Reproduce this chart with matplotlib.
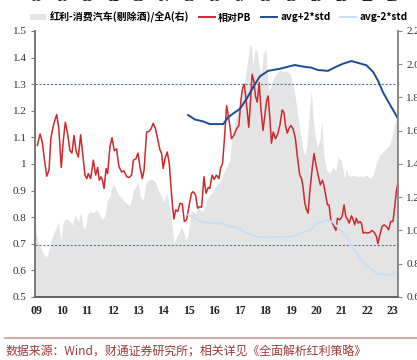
import matplotlib
matplotlib.use("Agg")
import matplotlib.pyplot as plt
import matplotlib.transforms as mtransforms
from matplotlib.patches import Patch
from matplotlib.lines import Line2D

plt.rcParams['font.family'] = ['Noto Sans CJK SC', 'DejaVu Sans']

# ---- data (decimal years) ----
red_t = [2009.05, 2009.16, 2009.25, 2009.33, 2009.42, 2009.51, 2009.58, 2009.68, 2009.81, 2009.89,
         2009.99, 2010.07, 2010.15, 2010.24, 2010.33, 2010.41, 2010.49, 2010.57, 2010.66, 2010.75,
         2010.83, 2010.92, 2010.99, 2011.05, 2011.14, 2011.25, 2011.34, 2011.42, 2011.48, 2011.55,
         2011.61, 2011.67, 2011.75, 2011.81, 2011.90, 2011.98, 2012.07, 2012.16, 2012.25, 2012.36,
         2012.45, 2012.56, 2012.65, 2012.75, 2012.82, 2012.92, 2013.00, 2013.08, 2013.17, 2013.24,
         2013.34, 2013.44, 2013.51, 2013.60, 2013.69, 2013.77, 2013.86, 2013.93, 2013.99, 2014.06,
         2014.15, 2014.23, 2014.29, 2014.36, 2014.41, 2014.48, 2014.56, 2014.65, 2014.74, 2014.82,
         2014.91, 2015.00, 2015.10, 2015.17, 2015.26, 2015.34, 2015.43, 2015.50, 2015.59, 2015.67,
         2015.76, 2015.82, 2015.91, 2015.99, 2016.08, 2016.18, 2016.24, 2016.32, 2016.39, 2016.48,
         2016.58, 2016.67, 2016.76, 2016.87, 2016.96, 2017.04, 2017.10, 2017.17, 2017.22, 2017.29,
         2017.35, 2017.42, 2017.48, 2017.55, 2017.61, 2017.68, 2017.76, 2017.82, 2017.91, 2017.98,
         2018.05, 2018.11, 2018.18, 2018.24, 2018.31, 2018.40, 2018.48, 2018.57, 2018.66, 2018.73,
         2018.79, 2018.86, 2018.92, 2019.00, 2019.09, 2019.18, 2019.26, 2019.35, 2019.42, 2019.48,
         2019.55, 2019.61, 2019.68, 2019.74, 2019.84, 2019.91, 2019.98, 2020.07, 2020.16, 2020.24,
         2020.29, 2020.37, 2020.44, 2020.50, 2020.57, 2020.63, 2020.70, 2020.77, 2020.83, 2020.92,
         2021.01, 2021.09, 2021.16, 2021.22, 2021.29, 2021.38, 2021.44, 2021.51, 2021.57, 2021.64,
         2021.71, 2021.77, 2021.84, 2021.93, 2022.01, 2022.10, 2022.19, 2022.27, 2022.36, 2022.42,
         2022.49, 2022.58, 2022.66, 2022.75, 2022.84, 2022.92, 2023.01, 2023.08, 2023.14, 2023.20]
red_v = [1.070, 1.113, 1.080, 1.014, 0.954, 0.977, 1.095, 1.145, 1.186, 1.138,
         0.987, 1.089, 1.157, 1.113, 1.050, 1.041, 1.107, 1.050, 1.026, 1.110,
         1.038, 0.958, 0.945, 0.964, 0.945, 1.014, 0.958, 0.987, 0.939, 0.952,
         0.937, 0.908, 0.983, 0.964, 1.064, 1.099, 1.050, 1.057, 0.991, 0.970,
         0.974, 0.952, 0.949, 0.958, 1.014, 1.020, 1.041, 0.989, 0.945, 0.977,
         1.120, 1.123, 1.132, 1.153, 1.132, 1.095, 1.054, 1.039, 0.983, 1.020,
         1.045, 1.001, 0.921, 0.840, 0.793, 0.828, 0.821, 0.852, 0.850, 0.784,
         0.790, 0.840, 0.890, 0.896, 0.883, 0.834, 0.840, 0.837, 0.952, 0.890,
         0.912, 0.908, 0.958, 0.942, 0.958, 0.945, 0.983, 1.001, 1.089, 1.219,
         1.163, 1.095, 1.107, 1.132, 1.145, 1.238, 1.281, 1.300, 1.263, 1.194,
         1.138, 1.238, 1.337, 1.312, 1.256, 1.232, 1.306, 1.213, 1.126, 1.182,
         1.238, 1.256, 1.169, 1.078, 1.120, 1.095, 1.111, 1.145, 1.203, 1.194,
         1.145, 1.116, 1.132, 1.145, 1.132, 1.095, 1.026, 0.958, 0.945, 0.914,
         0.852, 0.830, 0.815, 0.890, 0.983, 1.039, 1.001, 0.958, 0.921, 0.939,
         0.924, 0.883, 0.846, 0.846, 0.790, 0.778, 0.765, 0.750, 0.796, 0.790,
         0.802, 0.846, 0.802, 0.793, 0.778, 0.805, 0.793, 0.771, 0.796, 0.778,
         0.784, 0.778, 0.740, 0.743, 0.740, 0.743, 0.750, 0.743, 0.728, 0.700,
         0.731, 0.765, 0.771, 0.765, 0.753, 0.784, 0.784, 0.840, 0.896, 0.927]

hi_t = [2014.97, 2015.24, 2015.56, 2015.82, 2016.35, 2016.54, 2017.00, 2017.26, 2017.52, 2017.78,
        2018.11, 2018.57, 2019.16, 2019.48, 2019.81, 2020.07, 2020.46, 2020.79, 2021.05, 2021.38,
        2021.71, 2021.97, 2022.23, 2022.43, 2022.62, 2022.88, 2023.08, 2023.21]
hi_v = [1.184, 1.167, 1.160, 1.150, 1.150, 1.176, 1.207, 1.244, 1.288, 1.329,
        1.350, 1.358, 1.372, 1.366, 1.362, 1.353, 1.350, 1.366, 1.377, 1.387,
        1.378, 1.371, 1.346, 1.312, 1.269, 1.225, 1.192, 1.169]

lo_t = [2014.97, 2015.30, 2015.43, 2015.82, 2016.35, 2016.61, 2016.87, 2017.26, 2017.65, 2018.05,
        2018.57, 2018.96, 2019.22, 2019.48, 2019.75, 2020.01, 2020.20, 2020.46, 2020.66, 2020.92,
        2021.18, 2021.44, 2021.71, 2021.97, 2022.16, 2022.42, 2022.69, 2022.95, 2023.21]
lo_v = [0.809, 0.793, 0.784, 0.778, 0.775, 0.765, 0.763, 0.741, 0.726, 0.724,
        0.726, 0.726, 0.731, 0.744, 0.748, 0.778, 0.784, 0.790, 0.781, 0.754,
        0.729, 0.685, 0.648, 0.617, 0.604, 0.585, 0.585, 0.583, 0.598]

gray_t = [2008.96, 2009.09, 2009.22, 2009.39, 2009.48, 2009.61, 2009.75, 2009.88, 2009.97, 2010.07,
          2010.20, 2010.33, 2010.44, 2010.53, 2010.66, 2010.75, 2010.83, 2010.92, 2011.01, 2011.12,
          2011.25, 2011.38, 2011.51, 2011.61, 2011.71, 2011.80, 2011.90, 2012.01, 2012.10, 2012.23,
          2012.32, 2012.42, 2012.56, 2012.69, 2012.82, 2012.95, 2013.01, 2013.10, 2013.21, 2013.31,
          2013.41, 2013.54, 2013.67, 2013.80, 2013.93, 2014.02, 2014.12, 2014.23, 2014.32, 2014.41,
          2014.52, 2014.62, 2014.71, 2014.80, 2014.88, 2014.97, 2015.07, 2015.14, 2015.24, 2015.37,
          2015.50, 2015.59, 2015.69, 2015.82, 2015.95, 2016.08, 2016.22, 2016.35, 2016.48, 2016.61,
          2016.67, 2016.80, 2016.93, 2017.07, 2017.20, 2017.30, 2017.39, 2017.46, 2017.52, 2017.59,
          2017.68, 2017.76, 2017.85, 2017.92, 2018.02, 2018.07, 2018.15, 2018.24, 2018.33, 2018.44,
          2018.57, 2018.70, 2018.83, 2018.96, 2019.09, 2019.20, 2019.29, 2019.38, 2019.48, 2019.55,
          2019.62, 2019.70, 2019.80, 2019.88, 2019.96, 2020.05, 2020.15, 2020.22, 2020.27, 2020.33,
          2020.40, 2020.53, 2020.66, 2020.76, 2020.86, 2020.99, 2021.05, 2021.12, 2021.18, 2021.25,
          2021.34, 2021.44, 2021.57, 2021.71, 2021.84, 2021.97, 2022.10, 2022.23, 2022.36, 2022.49,
          2022.62, 2022.75, 2022.88, 2023.01, 2023.08, 2023.20]
gray_v = [1.023, 0.923, 0.883, 0.839, 0.863, 0.953, 1.003, 1.047, 0.933, 1.053,
          1.073, 1.053, 1.033, 1.093, 1.053, 1.113, 1.033, 1.003, 1.093, 1.113,
          1.107, 1.123, 1.093, 1.063, 1.093, 1.183, 1.203, 1.284, 1.263, 1.213,
          1.203, 1.183, 1.163, 1.153, 1.243, 1.273, 1.293, 1.203, 1.183, 1.284,
          1.303, 1.310, 1.293, 1.243, 1.203, 1.173, 1.223, 1.153, 1.063, 0.923,
          0.963, 0.993, 1.023, 0.983, 0.943, 0.973, 1.103, 1.123, 1.103, 1.143,
          1.113, 1.133, 1.183, 1.213, 1.233, 1.273, 1.293, 1.343, 1.383, 1.424,
          1.544, 1.645, 1.725, 1.805, 1.905, 2.015, 2.116, 2.100, 1.980, 2.090,
          2.080, 1.980, 1.940, 2.060, 2.086, 1.956, 1.836, 1.876, 1.916, 1.946,
          1.966, 1.956, 1.960, 1.946, 1.876, 1.776, 1.675, 1.575, 1.484, 1.450,
          1.500, 1.650, 1.845, 1.680, 1.560, 1.500, 1.550, 1.665, 1.500, 1.420,
          1.364, 1.344, 1.384, 1.354, 1.444, 1.414, 1.364, 1.314, 1.374, 1.334,
          1.324, 1.334, 1.324, 1.328, 1.324, 1.334, 1.314, 1.334, 1.404, 1.454,
          1.474, 1.494, 1.514, 1.585, 1.645, 1.690]

years = list(range(2009, 2024))
year_labels = ['%02d' % (y % 100) for y in years]
left_ticks = [0.5, 0.6, 0.7, 0.8, 0.9, 1.0, 1.1, 1.2, 1.3, 1.4, 1.5]
left_labels = ['0.5', '0.6', '0.7', '0.8', '0.9', '1', '1.1', '1.2', '1.3', '1.4', '1.5']
right_ticks = [0.6, 0.8, 1.0, 1.2, 1.4, 1.6, 1.8, 2.0, 2.2]
ref_lines = [1.3, 0.697]

c_gray = '#e4e4e4'
c_red = '#cc2a2e'
c_navy = '#1c4c98'
c_light = '#c6e0f7'
c_ref = '#5d6f9c'
serif = 'Liberation Serif'

fig = plt.figure(figsize=(4.17, 3.6), dpi=100)
ax = fig.add_axes([0.084, 0.175, 0.87, 0.739])
ax2 = ax.twinx()

ax2.fill_between(gray_t, 0, gray_v, color=c_gray, linewidth=0)
ax2.set_ylim(0.6, 2.2)
ax2.set_yticks(right_ticks)
ax2.set_yticklabels(['%.1f' % v for v in right_ticks])

ax.set_zorder(ax2.get_zorder() + 1)
ax.patch.set_visible(False)

for yv in ref_lines:
    ax.axhline(yv, color=c_ref, linestyle=(0, (2, 1.5)), linewidth=0.8)
ax.plot(red_t, red_v, color=c_red, linewidth=1.1)
ax.plot(hi_t, hi_v, color=c_navy, linewidth=1.4)
ax.plot(lo_t, lo_v, color=c_light, linewidth=1.4)

ax.set_xlim(2008.96, 2023.2)
ax.set_ylim(0.5, 1.5)
ax.set_yticks(left_ticks)
ax.set_yticklabels(left_labels)
ax.set_xticks(years)
ax.set_xticklabels(year_labels)

for a in (ax, ax2):
    a.spines['top'].set_visible(False)
    a.spines['left'].set_color('#7a7a7a')
    a.spines['right'].set_color('#8a8a8a')
    a.spines['bottom'].set_color('#666666')
    for s in ('left', 'right', 'bottom'):
        a.spines[s].set_linewidth(1.4)

ax.tick_params(axis='x', length=0, pad=6)
ax.tick_params(axis='y', direction='out', length=3, width=0.8, color='#7a7a7a', pad=3)
ax2.tick_params(axis='y', direction='out', length=3, width=0.8, color='#8a8a8a', pad=3)
for lab in ax.get_xticklabels():
    lab.set_fontfamily(serif)
    lab.set_fontweight('bold')
    lab.set_fontsize(8.5)
    lab.set_color('#222222')
for lab in ax.get_yticklabels() + ax2.get_yticklabels():
    lab.set_fontfamily(serif)
    lab.set_fontsize(8)
    lab.set_color('#333333')

# legend
handles = [Patch(facecolor=c_gray, edgecolor='none'),
           Line2D([], [], color=c_red, linewidth=1.4),
           Line2D([], [], color=c_navy, linewidth=1.4),
           Line2D([], [], color=c_light, linewidth=1.4)]
labels = ['红利-消费汽车(剔除酒)/全A(右)', '相对PB', 'avg+2*std', 'avg-2*std']
fig.legend(handles, labels, loc='center', bbox_to_anchor=(0.525, 0.952), ncol=4,
           frameon=False, prop={'family': ['Noto Sans CJK SC', 'DejaVu Sans'], 'weight': 'bold', 'size': 7.2},
           handlelength=1.6, handleheight=0.6, handletextpad=0.3, columnspacing=1.0, borderaxespad=0)

# cut-off labels of the chart above
trans = mtransforms.blended_transform_factory(ax.transData, fig.transFigure)
for y, lab in zip(years, year_labels):
    fig.text(y, 1.0 + 2.0 / 360, lab, transform=trans, ha='center', va='center',
             fontfamily=serif, fontweight='bold', fontsize=8.5, color='#222222')

# source line
fig.add_artist(Line2D([0.012, 1.0], [1 - 338 / 360, 1 - 338 / 360], color='#c99a9a', linewidth=1.2,
                      transform=fig.transFigure))
fig.text(0.012, 1 - 352 / 360, '数据来源：Wind，财通证券研究所；相关详见《全面解析红利策略》',
         fontsize=8.6, color='#9a3a3a', ha='left', va='center')

fig.savefig('out.png', dpi=100)
